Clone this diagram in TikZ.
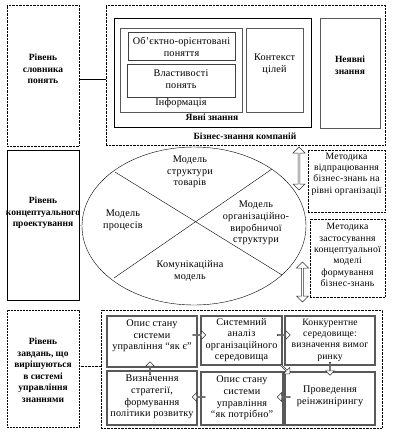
\documentclass[tikz,border=0pt]{standalone}
\usepackage{fontspec}
\setmainfont{Liberation Serif}[LetterSpace=2]
\newfontfamily\plainserif{Liberation Serif}
\usetikzlibrary{shapes.geometric,shapes.arrows,calc}
\begin{document}
\begin{tikzpicture}[x=1pt,y=-1pt,
  txt/.style={font=\fontsize{10.2}{11.6}\selectfont, align=center, inner sep=0pt},
  txts/.style={font=\fontsize{9.7}{11.4}\selectfont, align=center, inner sep=0pt},
  bld/.style={font=\plainserif\fontsize{9.5}{11.5}\selectfont\bfseries, align=center, inner sep=0pt},
  box/.style={draw, inner sep=0pt, fill=white},
  dotbox/.style={draw, densely dotted, inner sep=0pt, fill=white},
  graybox/.style={draw=black!65, line width=1.3pt, inner sep=0pt, fill=white},
  blockarr/.style={single arrow, draw=black!80, fill=white, line width=0.5pt, minimum height=13pt, minimum width=9pt, single arrow head extend=1.5pt, inner sep=0pt},
  dblarr/.style={double arrow, draw=black!80, fill=white, line width=0.5pt, minimum width=12pt, double arrow head extend=1.5pt, inner sep=0pt, rotate=90}
]
\useasboundingbox (0,0) rectangle (410,434);

% ---------- top row ----------
\node[dotbox, minimum width=72pt, minimum height=141pt] (L1) at (43,75.5) {};
\node[bld] (L1t) at (43,69) {Рівень\\словника\\понять};
\node[dotbox, minimum width=279pt, minimum height=140pt] (BZ) at (245.5,75) {};
\node[box, line width=0.9pt, minimum width=197pt, minimum height=109pt] (YZ) at (212.5,72.5) {};
\node[graybox, line width=1pt, minimum width=122pt, minimum height=84pt] (INF) at (181,70) {};
\node[box, draw=black!75, line width=0.9pt, minimum width=107pt, minimum height=28pt] (OBJ) at (181.5,46) {};
\node[txt] (OBJt) at (181.5,47) {Об’єктно-орієнтовані\\поняття};
\node[box, draw=black!75, line width=0.9pt, minimum width=108pt, minimum height=33pt] (PROP) at (181,80.5) {};
\node[txt] (PROPt) at (181,79) {Властивості\\понять};
\node[txt] (INFt) at (181,103) {Інформація};
\node[graybox, line width=1pt, minimum width=57pt, minimum height=84pt] (KC) at (274.5,70) {};
\node[txt] (KCt) at (274.5,64) {Контекст\\цілей};
\node[bld] (YZt) at (212,117) {Явні знання};
\node[graybox, line width=1pt, minimum width=60pt, minimum height=110pt] (NZ) at (350,73) {};
\node[bld] (NZt) at (350,65) {Неявні\\знання};
\node[bld] (BZt) at (245,136) {Бізнес-знання компаній};
\draw (L1.east |- 0,79) -- (BZ.west |- 0,79);

% ---------- middle row ----------
\node[box, minimum width=72pt, minimum height=150pt] (L2) at (43,225) {};
\node[bld] (L2t) at (43,213) {Рівень\\концептуального\\проектування};
\node[ellipse, draw, minimum width=224pt, minimum height=158pt, inner sep=0pt] (EL) at (194,226) {};
\coordinate (c1a) at (115,172);
\coordinate (c1b) at (282,275);
\coordinate (c2a) at (114,278);
\coordinate (c2b) at (272,169);
\draw (c1a) -- (c1b);
\draw (c2a) -- (c2b);
\draw[densely dotted] (L2.east |- 0,225) -- (EL.west);
\node[txt] (M1) at (190,172) {Модель\\структури\\товарів};
\node[txt] (M2) at (123,220) {Модель\\процесів};
\node[txt] (M3) at (256,223) {Модель\\організаційно-\\виробничої\\структури};
\node[txt] (M4) at (190,271) {Комунікаційна\\модель};

\node[dotbox, minimum width=77pt, minimum height=62pt] (MA) at (346.5,181) {};
\node[txts] (MAt) at (346.5,174) {Методика\\відпрацювання\\бізнес-знань на\\рівні організації};
\node[dotbox, minimum width=75pt, minimum height=78pt] (MB) at (347.5,258) {};
\node[txts] (MBt) at (347.5,255) {Методика\\застосування\\концептуальної\\моделі\\формування\\бізнес-знань};
\node[dblarr, minimum height=43pt] (DA) at (299,168.5) {};
\node[dblarr, minimum height=40pt] (DB) at (302.5,282) {};

% ---------- bottom row ----------
\node[box, dashed, dash pattern=on 2pt off 1pt, minimum width=72pt, minimum height=117pt] (L3) at (43,368.5) {};
\node[bld] (L3t) at (43,370) {Рівень\\завдань, що\\вирішуються\\в системі\\управління\\знаннями};
\node[dotbox, minimum width=281pt, minimum height=118pt] (BB) at (241.5,369) {};
\draw[densely dotted] (L3.east |- 0,366) -- (BB.west |- 0,366);

\node[graybox, minimum width=90pt, minimum height=51pt] (B1) at (152,341.5) {};
\node[txt] (B1t) at (152,336) {Опис стану\\системи\\управління “як є”};
\node[graybox, minimum width=81pt, minimum height=49pt] (B2) at (241.5,340.5) {};
\node[txt] (B2t) at (241.5,340) {Системний\\аналіз\\організаційного\\середовища};
\node[graybox, minimum width=90pt, minimum height=49pt] (B3) at (330,340.5) {};
\node[txts] (B3t) at (330,340) {Конкурентне\\середовище:\\визначення вимог\\ринку};
\node[graybox, minimum width=90pt, minimum height=54pt] (B4) at (152,398) {};
\node[txt] (B4t) at (152,397) {Визначення\\стратегії,\\формування\\політики розвитку};
\node[graybox, minimum width=82pt, minimum height=53pt] (B5) at (242,398.5) {};
\node[txt] (B5t) at (242,398) {Опис стану\\системи\\управління\\“як потрібно”};
\node[graybox, minimum width=90pt, minimum height=53pt] (B6) at (330,398.5) {};
\node[txt] (B6t) at (330,396) {Проведення\\реінжинірингу};

\node[blockarr] (A12) at (199,335) {};
\node[blockarr] (A23) at (283.5,335) {};
\node[blockarr, rotate=-90] (A36) at (330,368.5) {};
\node[blockarr, rotate=180] (A65) at (284,397) {};
\node[blockarr, rotate=180] (A54) at (199,397) {};
\node[blockarr, rotate=90] (A41) at (150,368.5) {};
\node[blockarr, rotate=-45] (A26) at (285,369) {};
\end{tikzpicture}
\end{document}
